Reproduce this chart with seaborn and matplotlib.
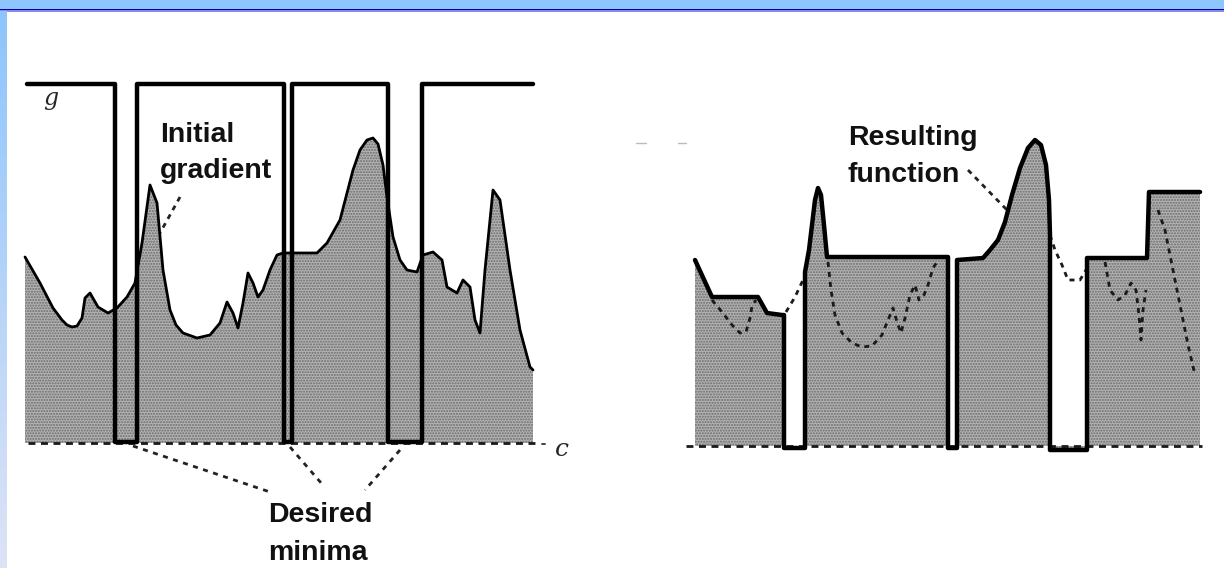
import numpy as np
import matplotlib
matplotlib.use("Agg")
import matplotlib.pyplot as plt
import seaborn as sns
import pandas as pd

# left panel: initial gradient f (pixel-space readings of the scan)
f_x = [25, 40, 53, 62, 67, 72, 77, 82, 85, 90, 98, 108, 117, 127, 135, 142, 150, 157, 163, 170, 176, 183, 197,
       210, 220, 227, 233, 238, 243, 248, 253, 258, 263, 270, 277, 283, 317, 327, 340, 353, 360, 367, 373,
       378, 383, 387, 393, 400, 407, 417, 423, 433, 442, 447, 457, 463, 470, 475, 480, 485, 493, 500, 510,
       520, 530, 533]
f_y = [257, 283, 308, 320, 325, 327, 326, 318, 298, 293, 307, 313, 308, 297, 283, 243, 185, 203, 270, 310, 325, 333, 338,
       335, 323, 302, 313, 328, 303, 273, 283, 297, 290, 270, 255, 253, 253, 243, 220, 170, 150, 140, 138,
       144, 165, 197, 237, 260, 270, 272, 255, 252, 260, 287, 293, 280, 287, 320, 333, 270, 190, 200, 270,
       330, 367, 370]

# left panel: marker function g (top level with three desired minima)
g_x = [27, 115, 115, 137, 137, 284, 284, 292, 292, 388, 388, 422, 422, 533]
g_y = [84, 84, 442, 442, 84, 84, 442, 442, 84, 84, 442, 442, 84, 84]

# right panel: resulting function
r_x = [695, 712, 758, 767, 782, 784, 784, 805, 805, 809, 812, 815, 818, 821, 824, 827, 948, 948, 957, 957,
       983, 990, 998, 1005, 1012, 1020, 1028, 1035, 1041, 1046, 1049, 1050, 1050, 1087, 1087, 1147, 1149, 1200]
r_y = [260, 297, 297, 313, 315, 315, 448, 448, 272, 250, 225, 200, 188, 195, 225, 257, 257, 448, 448, 260,
       258, 250, 240, 222, 195, 168, 148, 140, 145, 165, 200, 235, 450, 450, 258, 258, 192, 192]

# right panel: original gradient where it was flooded (dashed)
orig_segments = [
    ([712, 722, 732, 740, 746, 750, 752, 756], [300, 312, 325, 333, 332, 318, 306, 300]),
    ([786, 795, 803], [312, 297, 280]),
    ([828, 831, 835, 842, 852, 862, 872, 882, 888, 893, 897, 901, 905, 910, 915, 919, 924, 928, 933, 937],
     [262, 290, 315, 333, 343, 347, 346, 335, 320, 308, 322, 333, 318, 295, 285, 300, 295, 285, 268, 262]),
    ([1050, 1055, 1062, 1068, 1080, 1086], [235, 250, 265, 280, 280, 270]),
    ([1105, 1110, 1118, 1125, 1131, 1136, 1139, 1141, 1143, 1146], [262, 290, 300, 295, 283, 290, 315, 340, 310, 290]),
    ([1158, 1165, 1172, 1180, 1188, 1195], [210, 230, 265, 305, 345, 375]),
]

base_left = 443
base_right = 446

W, H = 1224, 568
sns.set_theme(style="white")
plt.rcParams["font.family"] = ["Liberation Sans", "DejaVu Sans"]
plt.rcParams["hatch.linewidth"] = 1.0

fig = plt.figure(figsize=(W / 100, H / 100), dpi=100)
ax = fig.add_axes([0, 0, 1, 1])
ax.set_xlim(0, W)
ax.set_ylim(H, 0)
ax.axis("off")

# slide frame
ax.axhspan(0, 8.5, color="#8ec5fc", lw=0)
ax.axhspan(8.5, 10, color="#0000a8", lw=0)
ax.axhspan(10, 11.5, color="#8a8ae6", lw=0)
grad = np.linspace(0, 1, 100).reshape(-1, 1)
cmap = matplotlib.colors.LinearSegmentedColormap.from_list("strip", ["#8ec5fc", "#dde3f5"])
ax.imshow(grad, cmap=cmap, extent=[0, 7, H, 11.5], aspect="auto", zorder=1)

stipple = dict(facecolor="#b3b3b3", edgecolor="#6a6a6a", hatch="......", linewidth=0)

# left panel
ax.fill_between(f_x, f_y, base_left, **stipple, zorder=2)
df_f = pd.DataFrame({"x": f_x, "y": f_y})
sns.lineplot(data=df_f, x="x", y="y", ax=ax, color="black", lw=2, sort=False, estimator=None, zorder=4)
df_g = pd.DataFrame({"x": g_x, "y": g_y})
sns.lineplot(data=df_g, x="x", y="y", ax=ax, color="black", lw=3.2, sort=False, estimator=None, zorder=5)
ax.plot([28, 537], [base_left, base_left], color="#1a1a1a", lw=2, ls=(0, (2.5, 2)), zorder=3)
ax.plot([542, 545], [base_left + 1, base_left + 1], color="#444444", lw=1.4)

ax.text(51, 98, "g", fontsize=17, style="italic", family="DejaVu Serif", ha="center", va="center")
ax.text(562, 449, "c", fontsize=18, style="italic", family="DejaVu Serif", ha="center", va="center")

lab = dict(fontsize=20.5, fontweight="bold", color="#111111", va="baseline", ha="left")
ax.text(160, 142, "Initial", **lab)
ax.text(160, 178, "gradient", **lab)
ax.plot([180, 160], [197, 233], color="#222222", lw=2, ls=(0, (1.8, 1.8)))

ax.text(268, 522, "Desired", **lab)
ax.text(268, 560, "minima", **lab)
for (x0, y0), (x1, y1) in [((133, 446), (270, 492)), ((290, 447), (322, 484)), ((400, 450), (365, 490))]:
    ax.plot([x0, x1], [y0, y1], color="#222222", lw=2, ls=(0, (1.8, 2)))

# right panel
ax.fill_between(r_x, r_y, base_right, **stipple, zorder=2)
df_r = pd.DataFrame({"x": r_x, "y": r_y})
sns.lineplot(data=df_r, x="x", y="y", ax=ax, color="black", lw=3.2, sort=False, estimator=None, zorder=5)
for sx, sy in orig_segments:
    ax.plot(sx, sy, color="#1a1a1a", lw=2, ls=(0, (1.8, 1.8)), zorder=4)
ax.plot([686, 1202], [base_right, base_right], color="#1a1a1a", lw=2, ls=(0, (2.5, 2)), zorder=3)
ax.plot([636, 646], [143, 143], color="#bbbbbb", lw=1)
ax.plot([678, 686], [143, 143], color="#bbbbbb", lw=1)

ax.text(848, 145, "Resulting", **lab)
ax.text(848, 182, "function", **lab)
ax.plot([968, 1007], [170, 210], color="#222222", lw=2, ls=(0, (1.8, 1.8)))

fig.savefig("out.png", dpi=100)
